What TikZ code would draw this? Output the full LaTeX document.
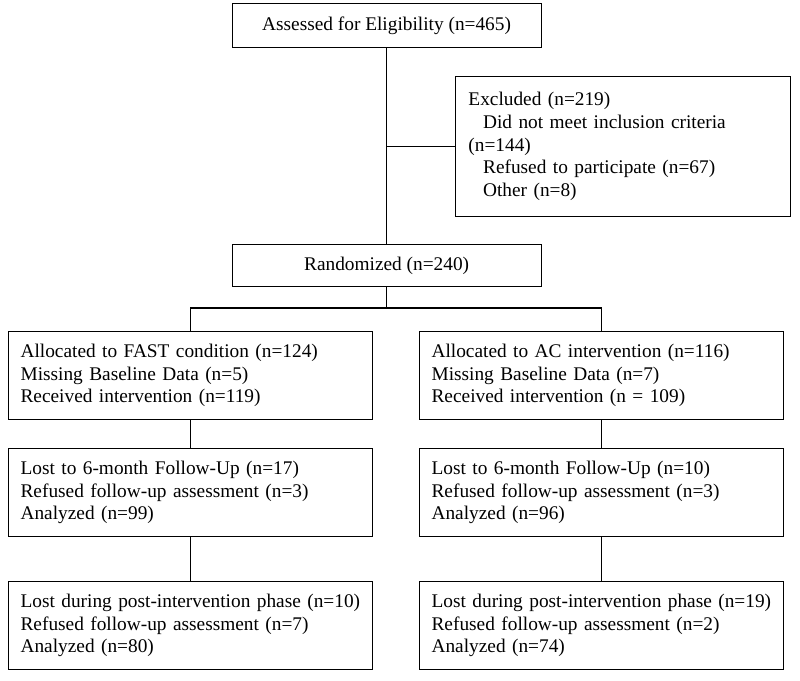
\documentclass[tikz,border=0pt]{standalone}
\usepackage{fontspec}
\setmainfont{Liberation Serif}
\begin{document}
\begin{tikzpicture}[x=0.75pt,y=-0.75pt,
  every node/.style={font=\fontsize{14.5pt}{17pt}\selectfont},
  box/.style={draw, line width=0.9pt, rectangle, inner sep=0pt, anchor=north west},
  lbox/.style={box, align=left, minimum width=273pt, minimum height=66pt, text width=255pt},
  conn/.style={line width=0.9pt}]
\useasboundingbox (0,0) rectangle (800,681);
\node[box, minimum width=231.75pt, minimum height=33pt] (A) at (231.5,3) {Assessed for Eligibility (n=465)};
\node[box, align=left, minimum width=251.25pt, minimum height=105pt, text width=232pt] (E) at (455,76)
  {Excluded (n=219)\\\hspace*{11pt}Did not meet inclusion criteria\\(n=144)\\\hspace*{11pt}Refused to participate (n=67)\\\hspace*{11pt}Other (n=8)\\[4pt]};
\node[box, minimum width=231.75pt, minimum height=31.5pt] (R) at (231.5,244) {Randomized (n=240)};
\node[lbox] (L1) at (8,331) {Allocated to FAST condition (n=124)\\Missing Baseline Data (n=5)\\Received intervention (n=119)};
\node[lbox] (L2) at (8,448) {Lost to 6-month Follow-Up (n=17)\\Refused follow-up assessment (n=3)\\Analyzed (n=99)};
\node[lbox] (L3) at (8,581) {Lost during post-intervention phase (n=10)\\Refused follow-up assessment (n=7)\\Analyzed (n=80)};
\node[lbox] (R1) at (419,331) {Allocated to AC intervention (n=116)\\Missing Baseline Data (n=7)\\Received intervention (n = 109)};
\node[lbox] (R2) at (419,448) {Lost to 6-month Follow-Up (n=10)\\Refused follow-up assessment (n=3)\\Analyzed (n=96)};
\node[lbox] (R3) at (419,581) {Lost during post-intervention phase (n=19)\\Refused follow-up assessment (n=2)\\Analyzed (n=74)};
\coordinate (split) at (386,308);
\draw[conn] (A.south) -- (R.north);
\draw[conn] (E.west) -- (E.west -| A.south);
\draw[conn] (R.south) -- (R.south |- split);
\draw[conn] (L1.north) -- (L1.north |- split) -- (R1.north |- split) -- (R1.north);
\draw[conn] (L1.south) -- (L2.north);
\draw[conn] (L2.south) -- (L3.north);
\draw[conn] (R1.south) -- (R2.north);
\draw[conn] (R2.south) -- (R3.north);
\end{tikzpicture}
\end{document}
